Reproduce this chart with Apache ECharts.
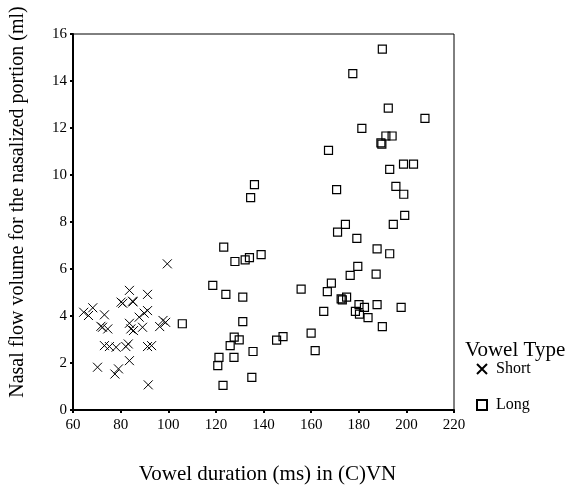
<!DOCTYPE html>
<html>
<head>
<meta charset="utf-8">
<script src="https://cdn.jsdelivr.net/npm/echarts@6/dist/echarts.min.js"></script>
<style>
html,body{margin:0;padding:0;background:#fff;}
#chart{width:574px;height:490px;}
</style>
</head>
<body>
<div id="chart"></div>
<script>
var xTicks = [60, 80, 100, 120, 140, 160, 180, 200, 220];
var yTicks = [0, 2, 4, 6, 8, 10, 12, 14, 16];

var shortX = [64.5, 66.5, 68.3, 70.3, 71.7, 72.4, 73.2, 73.2, 74.6, 75.3, 77.6, 79.1, 78.1, 80.2, 80.9, 82.2, 83.2, 83.7, 83.7, 83.7, 85.0, 85.2, 84.3, 85.4, 87.8, 89.2, 89.9, 91.3, 91.3, 91.3, 93.0, 91.6, 96.4, 97.8, 98.9, 99.6];
var shortY = [4.16, 4.02, 4.35, 1.82, 3.56, 3.52, 4.05, 2.74, 3.45, 2.70, 1.53, 1.75, 2.67, 4.59, 4.54, 2.70, 2.81, 2.10, 5.09, 3.69, 4.63, 4.60, 3.45, 3.38, 3.95, 3.52, 4.12, 4.23, 4.92, 2.70, 2.74, 1.07, 3.55, 3.81, 3.73, 6.22];

var longX = [105.9, 118.7, 123.3, 128.0, 132.3, 134.1, 139.0, 124.2, 131.3, 131.3, 127.7, 129.8, 126.0, 121.3, 120.8, 127.6, 135.6, 135.1, 123.0, 136.2, 134.6,
  174.4, 171.1, 179.2, 194.5, 187.7, 193.0, 179.6, 176.4, 187.3, 168.5, 166.8, 155.8, 172.6, 173.1, 174.9, 180.1, 182.4, 187.7, 197.8, 178.6, 180.3, 183.9, 189.9, 165.3, 160.0, 148.2, 145.5, 161.7,
  189.9, 177.5, 192.4, 207.8, 181.3, 191.4, 194.0, 189.3, 189.7, 167.3, 193.0, 198.8, 203.0, 170.7, 195.6, 198.9, 199.3];
var longY = [3.67, 5.30, 6.93, 6.32, 6.39, 6.48, 6.61, 4.92, 4.80, 3.76, 3.10, 2.98, 2.74, 2.24, 1.89, 2.24, 2.49, 1.39, 1.05, 9.59, 9.04,
  7.90, 7.57, 7.30, 7.90, 6.86, 6.65, 6.11, 5.73, 5.78, 5.40, 5.04, 5.14, 4.73, 4.69, 4.80, 4.48, 4.37, 4.48, 4.37, 4.20, 4.08, 3.93, 3.55, 4.20, 3.27, 3.12, 2.97, 2.53,
  15.36, 14.31, 12.85, 12.41, 11.98, 11.66, 11.66, 11.37, 11.31, 11.05, 10.24, 10.46, 10.46, 9.38, 9.52, 9.18, 8.28];

function zip(a, b) { return a.map(function (v, i) { return [v, b[i]]; }); }

var FONT = 'Liberation Serif';
var chart = echarts.init(document.getElementById('chart'), null, {renderer: 'canvas'});
chart.setOption({
  animation: false,
  backgroundColor: '#fff',
  textStyle: {fontFamily: FONT, color: '#000'},
  grid: {left: 70, top: 34, right: 120, bottom: 80, show: true, borderColor: '#000', borderWidth: 1, backgroundColor: 'transparent'},
  xAxis: {
    type: 'value', min: xTicks[0], max: xTicks[xTicks.length - 1], interval: 20,
    axisLine: {show: true, lineStyle: {color: '#000', width: 2}},
    axisTick: {show: true, length: 3, lineStyle: {color: '#000', width: 2}},
    splitLine: {show: false},
    axisLabel: {fontFamily: FONT, fontSize: 15, color: '#000', margin: 8},
    name: 'Vowel duration (ms) in (C)VN',
    nameLocation: 'middle', nameGap: 54,
    nameTextStyle: {fontFamily: FONT, fontSize: 21, color: '#000', padding: [0, 0, 0, 8]}
  },
  yAxis: {
    type: 'value', min: yTicks[0], max: yTicks[yTicks.length - 1], interval: 2,
    axisLine: {show: true, lineStyle: {color: '#000', width: 2}},
    axisTick: {show: true, length: 3, lineStyle: {color: '#000', width: 2}},
    splitLine: {show: false},
    axisLabel: {fontFamily: FONT, fontSize: 15, color: '#000', margin: 6},
    name: 'Nasal flow volume for the nasalized portion (ml)',
    nameLocation: 'middle', nameGap: 45,
    nameTextStyle: {fontFamily: FONT, fontSize: 20, color: '#000', padding: [0, 0, 0, 40]}
  },
  legend: {
    orient: 'vertical', left: 471, top: 356, itemGap: 20, itemWidth: 10, itemHeight: 10,
    textStyle: {fontFamily: FONT, fontSize: 16, color: '#000', padding: [8, 0, 0, 4]},
    data: ['Short', 'Long']
  },
  graphic: [{
    type: 'text', left: 465, top: 340,
    style: {text: 'Vowel Type', fontFamily: FONT, fontSize: 21, fill: '#000'}
  }],
  series: [{
    name: 'Short', type: 'scatter',
    symbol: 'path://M0,0L10,10M10,0L0,10', symbolSize: 9,
    itemStyle: {color: 'transparent', borderColor: '#000', borderWidth: 1, opacity: 1},
    data: zip(shortX, shortY)
  }, {
    name: 'Long', type: 'scatter',
    symbol: 'rect', symbolSize: 8,
    itemStyle: {color: 'transparent', borderColor: '#000', borderWidth: 1.2, opacity: 1},
    data: zip(longX, longY)
  }]
});
</script>
</body>
</html>
